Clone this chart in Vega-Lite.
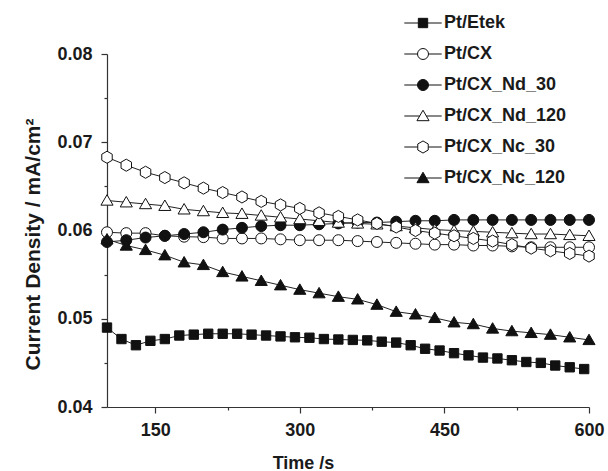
{
  "$schema": "https://vega.github.io/schema/vega-lite/v6.json",
  "width": 482,
  "height": 353,
  "autosize": {"type": "none"},
  "padding": {"left": 107, "top": 54, "right": 19, "bottom": 64},
  "background": "white",
  "config": {
    "view": {"stroke": null},
    "font": "Liberation Sans",
    "axis": {
      "grid": false,
      "domainColor": "#333333",
      "domainWidth": 1.2,
      "tickColor": "#333333",
      "tickWidth": 1.2,
      "labelColor": "#1a1a1a",
      "titleColor": "#1a1a1a",
      "labelFont": "Liberation Sans",
      "titleFont": "Liberation Sans",
      "labelFontWeight": "bold",
      "titleFontWeight": "bold",
      "labelFontSize": 18,
      "titleFontSize": 18,
      "labelFlush": false,
      "labelOverlap": false
    },
    "legend": {
      "title": null,
      "orient": "none",
      "legendX": 307,
      "legendY": -40,
      "padding": 0,
      "symbolSize": 121,
      "symbolStrokeWidth": 1,
      "labelFont": "Liberation Sans",
      "labelFontWeight": "bold",
      "labelFontSize": 18,
      "labelColor": "#1a1a1a",
      "labelOffset": 12,
      "rowPadding": 13
    }
  },
  "data": {
    "values": [
      {"series": "Pt/Etek", "t": 100, "j": 0.0490},
      {"series": "Pt/Etek", "t": 115, "j": 0.0477},
      {"series": "Pt/Etek", "t": 130, "j": 0.0470},
      {"series": "Pt/Etek", "t": 145, "j": 0.0475},
      {"series": "Pt/Etek", "t": 160, "j": 0.0477},
      {"series": "Pt/Etek", "t": 175, "j": 0.0481},
      {"series": "Pt/Etek", "t": 190, "j": 0.0482},
      {"series": "Pt/Etek", "t": 205, "j": 0.0483},
      {"series": "Pt/Etek", "t": 220, "j": 0.0483},
      {"series": "Pt/Etek", "t": 235, "j": 0.0483},
      {"series": "Pt/Etek", "t": 250, "j": 0.0482},
      {"series": "Pt/Etek", "t": 265, "j": 0.0481},
      {"series": "Pt/Etek", "t": 280, "j": 0.0480},
      {"series": "Pt/Etek", "t": 295, "j": 0.0479},
      {"series": "Pt/Etek", "t": 310, "j": 0.04785},
      {"series": "Pt/Etek", "t": 325, "j": 0.0477},
      {"series": "Pt/Etek", "t": 340, "j": 0.04765},
      {"series": "Pt/Etek", "t": 355, "j": 0.0476},
      {"series": "Pt/Etek", "t": 370, "j": 0.04755},
      {"series": "Pt/Etek", "t": 385, "j": 0.0474},
      {"series": "Pt/Etek", "t": 400, "j": 0.0473},
      {"series": "Pt/Etek", "t": 415, "j": 0.0470},
      {"series": "Pt/Etek", "t": 430, "j": 0.0466},
      {"series": "Pt/Etek", "t": 445, "j": 0.0464},
      {"series": "Pt/Etek", "t": 460, "j": 0.0461},
      {"series": "Pt/Etek", "t": 475, "j": 0.04585},
      {"series": "Pt/Etek", "t": 490, "j": 0.0456},
      {"series": "Pt/Etek", "t": 505, "j": 0.0455},
      {"series": "Pt/Etek", "t": 520, "j": 0.0453},
      {"series": "Pt/Etek", "t": 535, "j": 0.0451},
      {"series": "Pt/Etek", "t": 550, "j": 0.0450},
      {"series": "Pt/Etek", "t": 565, "j": 0.0447},
      {"series": "Pt/Etek", "t": 580, "j": 0.0445},
      {"series": "Pt/Etek", "t": 595, "j": 0.0443},

      {"series": "Pt/CX", "t": 100, "j": 0.0598},
      {"series": "Pt/CX", "t": 120, "j": 0.0597},
      {"series": "Pt/CX", "t": 140, "j": 0.0597},
      {"series": "Pt/CX", "t": 160, "j": 0.0594},
      {"series": "Pt/CX", "t": 180, "j": 0.0593},
      {"series": "Pt/CX", "t": 200, "j": 0.05925},
      {"series": "Pt/CX", "t": 220, "j": 0.0591},
      {"series": "Pt/CX", "t": 240, "j": 0.0591},
      {"series": "Pt/CX", "t": 260, "j": 0.0591},
      {"series": "Pt/CX", "t": 280, "j": 0.0590},
      {"series": "Pt/CX", "t": 300, "j": 0.0589},
      {"series": "Pt/CX", "t": 320, "j": 0.0589},
      {"series": "Pt/CX", "t": 340, "j": 0.0589},
      {"series": "Pt/CX", "t": 360, "j": 0.0588},
      {"series": "Pt/CX", "t": 380, "j": 0.0587},
      {"series": "Pt/CX", "t": 400, "j": 0.0586},
      {"series": "Pt/CX", "t": 420, "j": 0.0585},
      {"series": "Pt/CX", "t": 440, "j": 0.0584},
      {"series": "Pt/CX", "t": 460, "j": 0.0584},
      {"series": "Pt/CX", "t": 480, "j": 0.0583},
      {"series": "Pt/CX", "t": 500, "j": 0.0583},
      {"series": "Pt/CX", "t": 520, "j": 0.0582},
      {"series": "Pt/CX", "t": 540, "j": 0.0581},
      {"series": "Pt/CX", "t": 560, "j": 0.0581},
      {"series": "Pt/CX", "t": 580, "j": 0.0581},
      {"series": "Pt/CX", "t": 600, "j": 0.0581},

      {"series": "Pt/CX_Nd_30", "t": 100, "j": 0.0587},
      {"series": "Pt/CX_Nd_30", "t": 120, "j": 0.0589},
      {"series": "Pt/CX_Nd_30", "t": 140, "j": 0.0592},
      {"series": "Pt/CX_Nd_30", "t": 160, "j": 0.0594},
      {"series": "Pt/CX_Nd_30", "t": 180, "j": 0.0596},
      {"series": "Pt/CX_Nd_30", "t": 200, "j": 0.0598},
      {"series": "Pt/CX_Nd_30", "t": 220, "j": 0.0601},
      {"series": "Pt/CX_Nd_30", "t": 240, "j": 0.0603},
      {"series": "Pt/CX_Nd_30", "t": 260, "j": 0.0605},
      {"series": "Pt/CX_Nd_30", "t": 280, "j": 0.0606},
      {"series": "Pt/CX_Nd_30", "t": 300, "j": 0.0606},
      {"series": "Pt/CX_Nd_30", "t": 320, "j": 0.0607},
      {"series": "Pt/CX_Nd_30", "t": 340, "j": 0.0608},
      {"series": "Pt/CX_Nd_30", "t": 360, "j": 0.0609},
      {"series": "Pt/CX_Nd_30", "t": 380, "j": 0.0609},
      {"series": "Pt/CX_Nd_30", "t": 400, "j": 0.0610},
      {"series": "Pt/CX_Nd_30", "t": 420, "j": 0.0611},
      {"series": "Pt/CX_Nd_30", "t": 440, "j": 0.0611},
      {"series": "Pt/CX_Nd_30", "t": 460, "j": 0.0612},
      {"series": "Pt/CX_Nd_30", "t": 480, "j": 0.0612},
      {"series": "Pt/CX_Nd_30", "t": 500, "j": 0.0612},
      {"series": "Pt/CX_Nd_30", "t": 520, "j": 0.0612},
      {"series": "Pt/CX_Nd_30", "t": 540, "j": 0.0612},
      {"series": "Pt/CX_Nd_30", "t": 560, "j": 0.0612},
      {"series": "Pt/CX_Nd_30", "t": 580, "j": 0.0612},
      {"series": "Pt/CX_Nd_30", "t": 600, "j": 0.0612},

      {"series": "Pt/CX_Nd_120", "t": 100, "j": 0.0634},
      {"series": "Pt/CX_Nd_120", "t": 120, "j": 0.0632},
      {"series": "Pt/CX_Nd_120", "t": 140, "j": 0.0630},
      {"series": "Pt/CX_Nd_120", "t": 160, "j": 0.0628},
      {"series": "Pt/CX_Nd_120", "t": 180, "j": 0.0624},
      {"series": "Pt/CX_Nd_120", "t": 200, "j": 0.0622},
      {"series": "Pt/CX_Nd_120", "t": 220, "j": 0.0620},
      {"series": "Pt/CX_Nd_120", "t": 240, "j": 0.0619},
      {"series": "Pt/CX_Nd_120", "t": 260, "j": 0.0617},
      {"series": "Pt/CX_Nd_120", "t": 280, "j": 0.0615},
      {"series": "Pt/CX_Nd_120", "t": 300, "j": 0.0613},
      {"series": "Pt/CX_Nd_120", "t": 320, "j": 0.0611},
      {"series": "Pt/CX_Nd_120", "t": 340, "j": 0.0609},
      {"series": "Pt/CX_Nd_120", "t": 360, "j": 0.0608},
      {"series": "Pt/CX_Nd_120", "t": 380, "j": 0.0607},
      {"series": "Pt/CX_Nd_120", "t": 400, "j": 0.0605},
      {"series": "Pt/CX_Nd_120", "t": 420, "j": 0.0603},
      {"series": "Pt/CX_Nd_120", "t": 440, "j": 0.0601},
      {"series": "Pt/CX_Nd_120", "t": 460, "j": 0.0600},
      {"series": "Pt/CX_Nd_120", "t": 480, "j": 0.0599},
      {"series": "Pt/CX_Nd_120", "t": 500, "j": 0.0598},
      {"series": "Pt/CX_Nd_120", "t": 520, "j": 0.0597},
      {"series": "Pt/CX_Nd_120", "t": 540, "j": 0.0596},
      {"series": "Pt/CX_Nd_120", "t": 560, "j": 0.0596},
      {"series": "Pt/CX_Nd_120", "t": 580, "j": 0.0595},
      {"series": "Pt/CX_Nd_120", "t": 600, "j": 0.0594},

      {"series": "Pt/CX_Nc_30", "t": 100, "j": 0.0683},
      {"series": "Pt/CX_Nc_30", "t": 120, "j": 0.0674},
      {"series": "Pt/CX_Nc_30", "t": 140, "j": 0.0666},
      {"series": "Pt/CX_Nc_30", "t": 160, "j": 0.0660},
      {"series": "Pt/CX_Nc_30", "t": 180, "j": 0.0654},
      {"series": "Pt/CX_Nc_30", "t": 200, "j": 0.0648},
      {"series": "Pt/CX_Nc_30", "t": 220, "j": 0.0643},
      {"series": "Pt/CX_Nc_30", "t": 240, "j": 0.0638},
      {"series": "Pt/CX_Nc_30", "t": 260, "j": 0.0633},
      {"series": "Pt/CX_Nc_30", "t": 280, "j": 0.0629},
      {"series": "Pt/CX_Nc_30", "t": 300, "j": 0.0625},
      {"series": "Pt/CX_Nc_30", "t": 320, "j": 0.0620},
      {"series": "Pt/CX_Nc_30", "t": 340, "j": 0.0616},
      {"series": "Pt/CX_Nc_30", "t": 360, "j": 0.0612},
      {"series": "Pt/CX_Nc_30", "t": 380, "j": 0.0608},
      {"series": "Pt/CX_Nc_30", "t": 400, "j": 0.0604},
      {"series": "Pt/CX_Nc_30", "t": 420, "j": 0.0600},
      {"series": "Pt/CX_Nc_30", "t": 440, "j": 0.0597},
      {"series": "Pt/CX_Nc_30", "t": 460, "j": 0.0594},
      {"series": "Pt/CX_Nc_30", "t": 480, "j": 0.0591},
      {"series": "Pt/CX_Nc_30", "t": 500, "j": 0.0588},
      {"series": "Pt/CX_Nc_30", "t": 520, "j": 0.0584},
      {"series": "Pt/CX_Nc_30", "t": 540, "j": 0.0580},
      {"series": "Pt/CX_Nc_30", "t": 560, "j": 0.0577},
      {"series": "Pt/CX_Nc_30", "t": 580, "j": 0.0574},
      {"series": "Pt/CX_Nc_30", "t": 600, "j": 0.0571},

      {"series": "Pt/CX_Nc_120", "t": 100, "j": 0.0590},
      {"series": "Pt/CX_Nc_120", "t": 120, "j": 0.0583},
      {"series": "Pt/CX_Nc_120", "t": 140, "j": 0.0578},
      {"series": "Pt/CX_Nc_120", "t": 160, "j": 0.0572},
      {"series": "Pt/CX_Nc_120", "t": 180, "j": 0.0564},
      {"series": "Pt/CX_Nc_120", "t": 200, "j": 0.0561},
      {"series": "Pt/CX_Nc_120", "t": 220, "j": 0.0553},
      {"series": "Pt/CX_Nc_120", "t": 240, "j": 0.0548},
      {"series": "Pt/CX_Nc_120", "t": 260, "j": 0.0543},
      {"series": "Pt/CX_Nc_120", "t": 280, "j": 0.0538},
      {"series": "Pt/CX_Nc_120", "t": 300, "j": 0.0533},
      {"series": "Pt/CX_Nc_120", "t": 320, "j": 0.0529},
      {"series": "Pt/CX_Nc_120", "t": 340, "j": 0.0525},
      {"series": "Pt/CX_Nc_120", "t": 360, "j": 0.0522},
      {"series": "Pt/CX_Nc_120", "t": 380, "j": 0.0516},
      {"series": "Pt/CX_Nc_120", "t": 400, "j": 0.0508},
      {"series": "Pt/CX_Nc_120", "t": 420, "j": 0.0505},
      {"series": "Pt/CX_Nc_120", "t": 440, "j": 0.0501},
      {"series": "Pt/CX_Nc_120", "t": 460, "j": 0.0496},
      {"series": "Pt/CX_Nc_120", "t": 480, "j": 0.0494},
      {"series": "Pt/CX_Nc_120", "t": 500, "j": 0.0489},
      {"series": "Pt/CX_Nc_120", "t": 520, "j": 0.0486},
      {"series": "Pt/CX_Nc_120", "t": 540, "j": 0.0484},
      {"series": "Pt/CX_Nc_120", "t": 560, "j": 0.0482},
      {"series": "Pt/CX_Nc_120", "t": 580, "j": 0.0479},
      {"series": "Pt/CX_Nc_120", "t": 600, "j": 0.0476}
    ]
  },
  "encoding": {
    "x": {
      "field": "t",
      "type": "quantitative",
      "scale": {"domain": [100, 600], "nice": false, "zero": false},
      "axis": {
        "title": "Time /s",
        "values": [150, 225, 300, 375, 450, 525, 600],
        "labelExpr": "datum.value % 150 === 0 ? datum.label : ''",
        "tickSize": {"condition": {"test": "datum.value % 150 === 0", "value": 6}, "value": 3},
        "labelPadding": 8,
        "titleX": 196,
        "titleY": 61,
        "titleAlign": "center",
        "titleBaseline": "alphabetic"
      }
    },
    "y": {
      "field": "j",
      "type": "quantitative",
      "scale": {"domain": [0.04, 0.08], "nice": false, "zero": false},
      "axis": {
        "title": "Current Density / mA/cm²",
        "values": [0.04, 0.045, 0.05, 0.055, 0.06, 0.065, 0.07, 0.075, 0.08],
        "labelExpr": "round(datum.value * 1000) % 10 === 0 ? format(datum.value, '.2f') : ''",
        "tickSize": {"condition": {"test": "round(datum.value * 1000) % 10 === 0", "value": 6}, "value": 3},
        "labelPadding": 9,
        "titleFontSize": 21,
        "titleX": -68,
        "titleY": 190,
        "titleAngle": -90,
        "titleAlign": "center",
        "titleBaseline": "alphabetic"
      }
    }
  },
  "layer": [
    {
      "mark": {"type": "line", "color": "#222222", "strokeWidth": 1},
      "encoding": {"detail": {"field": "series"}}
    },
    {
      "mark": {"type": "point", "filled": true, "stroke": "#111111", "strokeWidth": 1, "size": 121, "opacity": 1},
      "encoding": {
        "fill": {
          "field": "series",
          "type": "nominal",
          "scale": {
            "domain": ["Pt/Etek", "Pt/CX", "Pt/CX_Nd_30", "Pt/CX_Nd_120", "Pt/CX_Nc_30", "Pt/CX_Nc_120"],
            "range": ["#111111", "white", "#111111", "white", "white", "#111111"]
          },
          "legend": null
        },
        "shape": {
          "field": "series",
          "type": "nominal",
          "scale": {
            "domain": ["Pt/Etek", "Pt/CX", "Pt/CX_Nd_30", "Pt/CX_Nd_120", "Pt/CX_Nc_30", "Pt/CX_Nc_120"],
            "range": [
              "M-0.85,-0.85H0.85V0.85H-0.85Z",
              "M1,0A1,1,0,1,1,-1,0A1,1,0,1,1,1,0Z",
              "M1,0A1,1,0,1,1,-1,0A1,1,0,1,1,1,0Z",
              "M0,-1.05L1.1,0.85L-1.1,0.85Z",
              "M0,-1.1L0.95,-0.55L0.95,0.55L0,1.1L-0.95,0.55L-0.95,-0.55Z",
              "M0,-1.05L1.1,0.85L-1.1,0.85Z"
            ]
          },
          "legend": null
        }
      }
    },
    {
      "transform": [{"filter": "datum.t < 0"}],
      "mark": {"type": "point", "filled": false, "stroke": "#111111", "strokeWidth": 1, "size": 121, "opacity": 1},
      "encoding": {
        "fill": {
          "field": "series",
          "type": "nominal",
          "scale": {
            "domain": ["Pt/Etek", "Pt/CX", "Pt/CX_Nd_30", "Pt/CX_Nd_120", "Pt/CX_Nc_30", "Pt/CX_Nc_120"],
            "range": ["#111111", "white", "#111111", "white", "white", "#111111"]
          },
          "legend": {"title": null}
        },
        "shape": {
          "field": "series",
          "type": "nominal",
          "scale": {
            "domain": ["Pt/Etek", "Pt/CX", "Pt/CX_Nd_30", "Pt/CX_Nd_120", "Pt/CX_Nc_30", "Pt/CX_Nc_120"],
            "range": [
              "M-3.4,0H3.4M-0.85,-0.85H0.85V0.85H-0.85Z",
              "M-3.4,0H-1M1,0H3.4M1,0A1,1,0,1,1,-1,0A1,1,0,1,1,1,0Z",
              "M-3.4,0H3.4M1,0A1,1,0,1,1,-1,0A1,1,0,1,1,1,0Z",
              "M-3.4,0H-0.61M0.61,0H3.4M0,-1.05L1.1,0.85L-1.1,0.85Z",
              "M-3.4,0H-0.95M0.95,0H3.4M0,-1.1L0.95,-0.55L0.95,0.55L0,1.1L-0.95,0.55L-0.95,-0.55Z",
              "M-3.4,0H3.4M0,-1.05L1.1,0.85L-1.1,0.85Z"
            ]
          },
          "legend": {"title": null}
        }
      }
    }
  ],
  "resolve": {
    "scale": {"shape": "independent", "fill": "independent"},
    "legend": {"shape": "independent", "fill": "independent"}
  }
}
